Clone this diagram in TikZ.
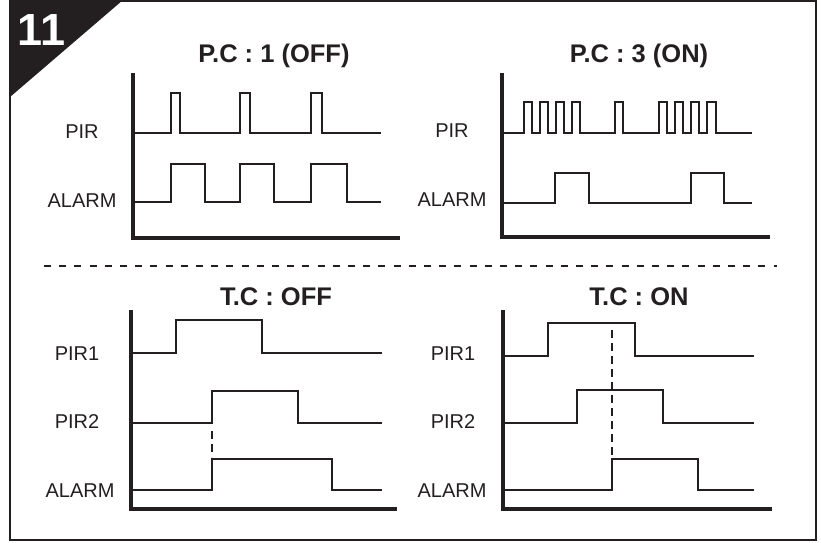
\documentclass[tikz,border=0pt]{standalone}
\usepackage{fontspec}
\setmainfont{Liberation Sans}
\usepackage{tikz}
\definecolor{ink}{HTML}{231F20}

\begin{document}
\begin{tikzpicture}[x=1pt,y=-1pt,
		sig/.style={ink,line width=2.3pt},
		axis/.style={ink,line width=4pt},
		guide/.style={ink,line width=2pt,dash pattern=on 8pt off 5pt},
		lbl/.style={anchor=base,inner sep=0pt,text=ink,font=\fontsize{20}{20}\selectfont},
		ttl/.style={anchor=base,inner sep=0pt,text=ink,font=\fontsize{25.5}{25.5}\selectfont\bfseries}]
			\useasboundingbox (0,0) rectangle (821,542);
			
			% frame and number badge
			\draw[ink,line width=1.5pt] (10,1) rectangle (816,540);
			\fill[ink] (10,0) -- (123,0) -- (10,97) -- cycle;
			\node[anchor=base,inner sep=0pt,text=white,font=\fontsize{45}{45}\selectfont\bfseries] (num) at (41.5,45) {11};
			
			% P.C : 1
			\node[ttl] (pc-off) at (274,62) {P.C : 1 (OFF)};
			\node[lbl] (pir-a) at (82,138) {PIR};
			\node[lbl] (alarm-a) at (82,207) {ALARM};
			\draw[axis] (133,73) -- (133,238) -- (400,238);
			\draw[sig] (133,133) -| (171,93) -| (180,133) -| (240,93) -| (250,133)
				-| (311,93) -| (322,133) -- (381,133);
			\draw[sig] (133,202) -| (171,164) -| (205,202) -| (240,164) -| (274,202)
				-| (311,164) -| (347,202) -- (381,202);
			
			% P.C : 3
			\node[ttl] (pc-on) at (639,62) {P.C : 3 (ON)};
			\node[lbl] (pir-b) at (452,137) {PIR};
			\node[lbl] (alarm-b) at (452,206) {ALARM};
			\draw[axis] (502,73) -- (502,237) -- (770,237);
			\draw[sig] (502,133) -| (524,102) -| (532,133) -| (540,102) -| (548,133)
				-| (556,102) -| (564,133) -| (572,102) -| (580,133)
				-| (615,102) -| (623,133)
				-| (659,102) -| (667,133) -| (675,102) -| (683,133)
				-| (691,102) -| (699,133) -| (707,102) -| (716,133) -- (752,133);
			\draw[sig] (502,203) -| (555,173) -| (589,203) -| (691,173) -| (724,203) -- (752,203);
			
			\draw[ink,line width=2.5pt,dash pattern=on 7pt off 8.2pt] (44,266) -- (777,266);
			
			% T.C : OFF
			\node[ttl] (tc-off) at (276,305) {T.C : OFF};
			\node[lbl] (pir1-c) at (77,360) {PIR1};
			\node[lbl] (pir2-c) at (77,428) {PIR2};
			\node[lbl] (alarm-c) at (80,497) {ALARM};
			\draw[axis] (131,310) -- (131,509) -- (397,509);
			\draw[sig] (131,353) -| (176,320) -| (262,353) -- (382,353);
			\draw[sig] (131,423) -| (212,391) -| (298,423) -- (382,423);
			\draw[sig] (131,490) -| (212,459) -| (332,490) -- (382,490);
			\draw[guide] (212,431) -- (212,457);
			
			% T.C : ON
			\node[ttl] (tc-on) at (639,305) {T.C : ON};
			\node[lbl] (pir1-d) at (453,360) {PIR1};
			\node[lbl] (pir2-d) at (453,428) {PIR2};
			\node[lbl] (alarm-d) at (452,497) {ALARM};
			\draw[axis] (503,310) -- (503,509) -- (772,509);
			\draw[sig] (503,356) -| (548,323) -| (635,356) -- (754,356);
			\draw[sig] (503,423) -| (577,390) -| (663,423) -- (754,423);
			\draw[sig] (503,490) -| (612,459) -| (698,490) -- (754,490);
			\draw[guide] (612,330) -- (612,455);
		\end{tikzpicture}
\end{document}
